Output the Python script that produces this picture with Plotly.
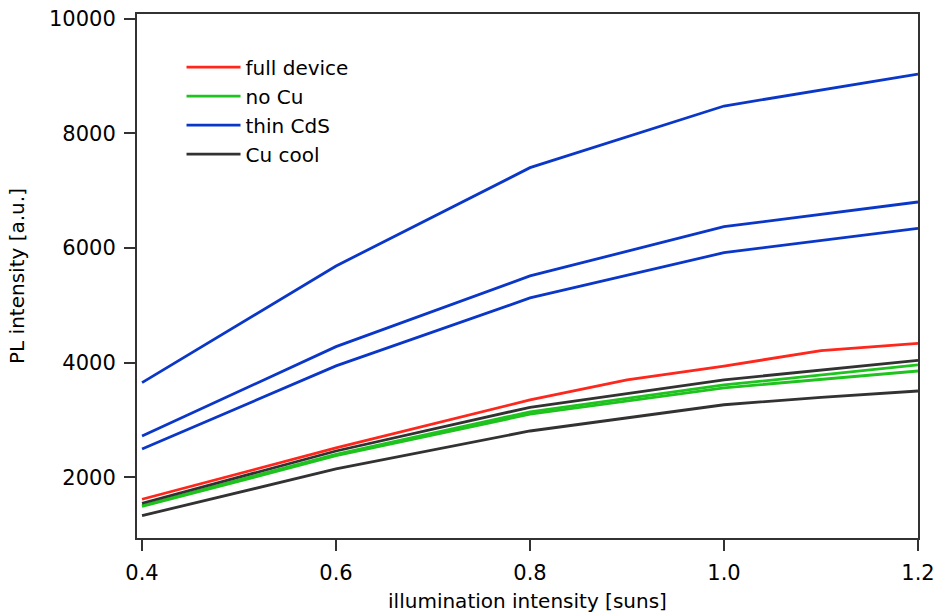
import plotly.graph_objects as go

# illumination intensity [suns] and PL intensity for each sample
x_five = [0.4, 0.6, 0.8, 1.0, 1.2]

thin_cds_a = [3650, 5686, 7401, 8477, 9035]
thin_cds_b = [2720, 4278, 5512, 6372, 6802]
thin_cds_c = [2493, 3942, 5128, 5918, 6343]

x_full = [0.4, 0.6, 0.8, 0.9, 1.0, 1.1, 1.2]
full_device = [1616, 2511, 3348, 3697, 3940, 4208, 4337]

no_cu_a = [1505, 2400, 3140, 3610, 3959]
no_cu_b = [1490, 2375, 3100, 3560, 3854]

cu_cool_a = [1546, 2458, 3221, 3700, 4040]
x_cool_b = [0.4, 0.6, 0.8, 1.0, 1.1, 1.2]
cu_cool_b = [1330, 2145, 2807, 3265, 3395, 3505]

x_ticks = [0.4, 0.6, 0.8, 1.0, 1.2]
x_tick_text = ["0.4", "0.6", "0.8", "1.0", "1.2"]
y_ticks = [2000, 4000, 6000, 8000, 10000]
y_tick_text = ["2000", "4000", "6000", "8000", "10000"]

RED = "rgb(255,38,28)"
GREEN = "rgb(30,195,30)"
BLUE = "rgb(10,55,200)"
DARK = "rgb(50,50,50)"

FONT = "DejaVu Sans"

fig = go.Figure()


def add(xs, ys, color, name, show):
    fig.add_trace(go.Scatter(
        x=xs, y=ys, mode="lines", name=name, legendgroup=name,
        showlegend=show, line=dict(color=color, width=2.8),
    ))


# draw order: blue, dark, green, red on top
add(x_five, thin_cds_a, BLUE, "thin CdS", False)
add(x_five, thin_cds_b, BLUE, "thin CdS", False)
add(x_five, thin_cds_c, BLUE, "thin CdS", False)
add(x_cool_b, cu_cool_b, DARK, "Cu cool", False)
add(x_five, no_cu_b, GREEN, "no Cu", False)
add(x_five, no_cu_a, GREEN, "no Cu", False)
add(x_five, cu_cool_a, DARK, "Cu cool", False)
add(x_full, full_device, RED, "full device", False)

# legend entries in the listed order
for nm, col in [("full device", RED), ("no Cu", GREEN), ("thin CdS", BLUE), ("Cu cool", DARK)]:
    fig.add_trace(go.Scatter(
        x=[None], y=[None], mode="lines", name=nm, legendgroup=nm,
        showlegend=True, line=dict(color=col, width=2.8),
    ))

axis_common = dict(
    showgrid=False, zeroline=False, showline=True, linecolor="rgb(50,50,50)",
    linewidth=2, mirror=True, ticks="outside", ticklen=11, tickwidth=1.5,
    tickcolor="rgb(50,50,50)", tickfont=dict(family=FONT, size=21, color="black"),
    automargin=False, ticklabelstandoff=4,
)

fig.update_layout(
    width=936, height=613,
    margin=dict(l=137, r=18, t=14, b=75),
    paper_bgcolor="white", plot_bgcolor="white",
    font=dict(family=FONT, color="black"),
    xaxis=dict(
        range=[0.3948, 1.2], tickvals=x_ticks, ticktext=x_tick_text,
        title=dict(text="illumination intensity [suns]", font=dict(family=FONT, size=20), standoff=10),
        **axis_common,
    ),
    yaxis=dict(
        range=[940, 10082], tickvals=y_ticks, ticktext=y_tick_text,
        title=dict(text="PL intensity [a.u.]", font=dict(family=FONT, size=20), standoff=19),
        **axis_common,
    ),
    legend=dict(
        x=0.057, y=0.936, xanchor="left", yanchor="top",
        bgcolor="rgba(0,0,0,0)", font=dict(family=FONT, size=20),
        tracegroupgap=0, itemwidth=54,
    ),
    showlegend=True,
)

fig.write_html("out.html")
